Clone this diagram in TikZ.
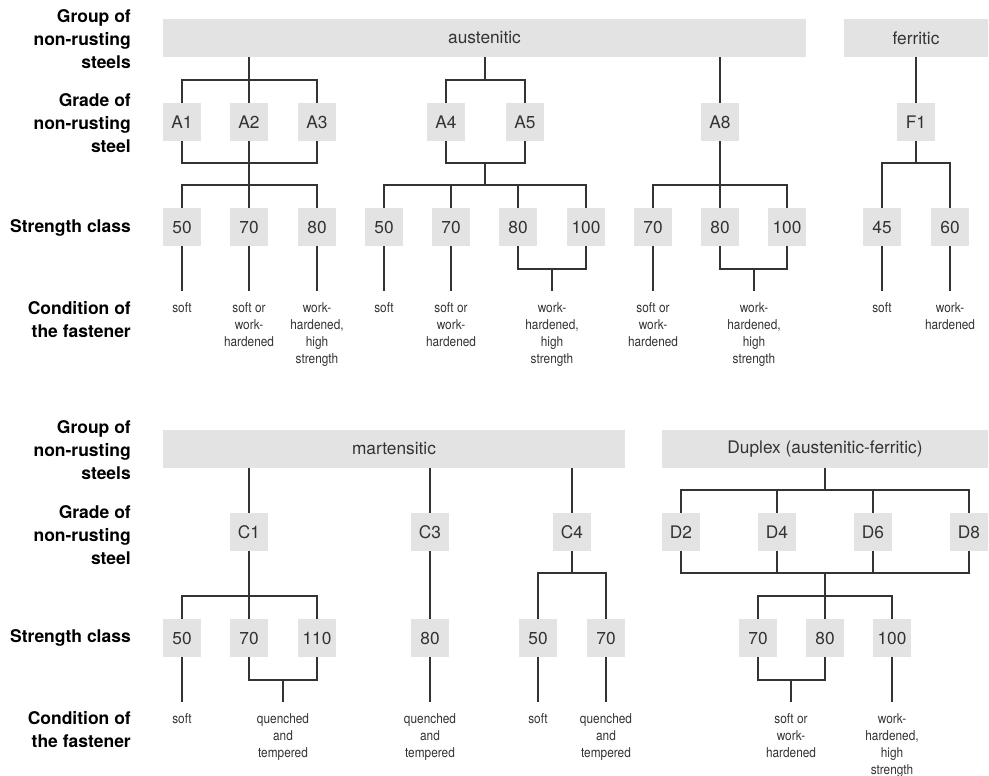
\documentclass[tikz,border=0pt]{standalone}
\usepackage{fontspec}
\setmainfont{TeX Gyre Heros}
\newfontfamily\condfont[FakeStretch=0.87]{TeX Gyre Heros}
\usepackage{xcolor}
\usepackage{tikz}
\usetikzlibrary{positioning}
\definecolor{SteelFill}{HTML}{E3E3E3}
\definecolor{SteelText}{HTML}{333333}
\definecolor{SteelLine}{HTML}{333333}

\begin{document}
\begin{tikzpicture}[
	x=1pt, y=-1pt,
	bar/.style={fill=SteelFill, text=SteelText, minimum height=38pt, inner sep=0pt, font=\fontsize{17.3}{20}\selectfont},
	grade/.style={fill=SteelFill, text=SteelText, minimum width=38pt, minimum height=38pt, inner sep=0pt, font=\fontsize{17.3}{20}\selectfont},
	cond/.style={text=SteelText, align=center, inner xsep=0pt, inner ysep=11pt, font={\condfont\fontsize{13.6}{17.2}\selectfont}},
	rowlabel/.style={anchor=east, align=right, inner sep=0pt, font={\bfseries\fontsize{17.5}{23}\selectfont}},
	link/.style={draw=SteelLine, line width=1.1pt}
]
\useasboundingbox (0,0) rectangle (989,776);

\node[rowlabel] (grp1) at (131,39) {Group of\\non-rusting\\steels};
\node[rowlabel] (grd1) at (131,123) {Grade of\\non-rusting\\steel};
\node[rowlabel] (str1) at (131,228) {Strength class};
\node[rowlabel] (cnd1) at (131,320) {Condition of\\the fastener};

\node[rowlabel] (grp2) at (131,450) {Group of\\non-rusting\\steels};
\node[rowlabel] (grd2) at (131,535) {Grade of\\non-rusting\\steel};
\node[rowlabel] (str2) at (131,638) {Strength class};
\node[rowlabel] (cnd2) at (131,730) {Condition of\\the fastener};

\node[bar, minimum width=643pt] (aust) at (484.5,38) {austenitic};
\node[bar, minimum width=144pt] (ferr) at (916,38) {ferritic};

\node[grade] (A1) at (182,122) {A1};
\node[grade] (A2) at (249,122) {A2};
\node[grade] (A3) at (317,122) {A3};
\node[grade] (A4) at (446,122) {A4};
\node[grade] (A5) at (525,122) {A5};
\node[grade] (A8) at (720,122) {A8};
\node[grade] (F1) at (916,122) {F1};

\node[grade] (s5a) at (182,227) {50};
\node[grade] (s7a) at (249,227) {70};
\node[grade] (s8a) at (317,227) {80};
\node[grade] (s5b) at (384,227) {50};
\node[grade] (s7b) at (451,227) {70};
\node[grade] (s8b) at (518,227) {80};
\node[grade] (s10b) at (586,227) {100};
\node[grade] (s7c) at (653,227) {70};
\node[grade] (s8c) at (720,227) {80};
\node[grade] (s10c) at (787,227) {100};
\node[grade] (s45) at (882,227) {45};
\node[grade] (s60) at (950,227) {60};

\coordinate (jA) at (249,80);
\coordinate (kA) at (249,163);
\coordinate (lA) at (249,185);
\coordinate (jB) at (485,80);
\coordinate (kB) at (485,163);
\coordinate (lB) at (485,185);
\coordinate (lC) at (720,185);
\coordinate (kF) at (916,163);
\coordinate (mB) at (552,269);
\coordinate (mC) at (754,269);

\draw[link] (aust.south -| jA) -- (jA) (A1.north) |- (jA) -| (A3.north) (jA) -- (A2.north);
\draw[link] (aust.south -| jB) -- (jB) (A4.north) |- (jB) -| (A5.north);
\draw[link] (aust.south -| A8) -- (A8.north);
\draw[link] (ferr) -- (F1);

\draw[link] (A1.south) |- (kA) -| (A3.south) (A2.south) -- (lA);
\draw[link] (s5a.north) |- (lA) -| (s8a.north) (lA) -- (s7a.north);
\draw[link] (A4.south) |- (kB) -| (A5.south) (kB) -- (lB);
\draw[link] (s5b.north) |- (lB) -| (s10b.north);
\draw[link] (s7b.north |- lB) -- (s7b.north) (s8b.north |- lB) -- (s8b.north);
\draw[link] (A8.south) -- (lC) (s7c.north) |- (lC) -| (s10c.north) (lC) -- (s8c.north);
\draw[link] (F1.south) -- (kF) (s45.north) |- (kF) -| (s60.north);

\node[cond, below=45pt of s5a] (c5a) {soft};
\node[cond, below=45pt of s7a] (c7a) {soft or\\work-\\hardened};
\node[cond, below=45pt of s8a] (c8a) {work-\\hardened,\\high\\strength};
\node[cond, below=45pt of s5b] (c5b) {soft};
\node[cond, below=45pt of s7b] (c7b) {soft or\\work-\\hardened};
\node[cond, below=22pt of mB] (c8b) {work-\\hardened,\\high\\strength};
\node[cond, below=45pt of s7c] (c7c) {soft or\\work-\\hardened};
\node[cond, below=22pt of mC] (c8c) {work-\\hardened,\\high\\strength};
\node[cond, below=45pt of s45] (c45) {soft};
\node[cond, below=45pt of s60] (c60) {work-\\hardened};

\draw[link] (s5a.south) -- (c5a.north);
\draw[link] (s7a.south) -- (c7a.north);
\draw[link] (s8a.south) -- (c8a.north);
\draw[link] (s5b.south) -- (c5b.north);
\draw[link] (s7b.south) -- (c7b.north);
\draw[link] (s8b.south) |- (mB) -| (s10b.south) (mB) -- (c8b.north);
\draw[link] (s7c.south) -- (c7c.north);
\draw[link] (s8c.south) |- (mC) -| (s10c.south) (mC) -- (c8c.north);
\draw[link] (s45.south) -- (c45.north);
\draw[link] (s60.south) -- (c60.north);

\node[bar, minimum width=462pt] (mart) at (394,449) {martensitic};
\node[bar, minimum width=326pt] (dupl) at (825,449) {Duplex (austenitic-ferritic)};

\node[grade] (C1) at (249,532) {C1};
\node[grade] (C3) at (430,532) {C3};
\node[grade] (C4) at (572,532) {C4};
\node[grade] (D2) at (681,532) {D2};
\node[grade] (D4) at (777,532) {D4};
\node[grade] (D6) at (873,532) {D6};
\node[grade] (D8) at (969,532) {D8};

\node[grade] (s5d) at (182,638) {50};
\node[grade] (s7d) at (249,638) {70};
\node[grade] (s11d) at (317,638) {110};
\node[grade] (s8e) at (430,638) {80};
\node[grade] (s5f) at (538,638) {50};
\node[grade] (s7f) at (606,638) {70};
\node[grade] (s7g) at (758,638) {70};
\node[grade] (s8g) at (825,638) {80};
\node[grade] (s10g) at (892,638) {100};

\coordinate (lD1) at (249,596);
\coordinate (kC4) at (572,573);
\coordinate (jD) at (825,490);
\coordinate (kD) at (825,573);
\coordinate (lD) at (825,596);
\coordinate (mD1) at (283,680);
\coordinate (mG) at (791,680);

\draw[link] (mart.south -| C1) -- (C1.north) (mart.south -| C3) -- (C3.north) (mart.south -| C4) -- (C4.north);
\draw[link] (dupl.south -| jD) -- (jD) (D2.north) |- (jD) -| (D8.north);
\draw[link] (D4.north |- jD) -- (D4.north) (D6.north |- jD) -- (D6.north);
\draw[link] (D2.south) |- (kD) -| (D8.south) (kD) -- (lD);
\draw[link] (D4.south) -- (D4.south |- kD) (D6.south) -- (D6.south |- kD);
\draw[link] (s7g.north) |- (lD) -| (s10g.north) (lD) -- (s8g.north);

\draw[link] (C1.south) -- (lD1) (s5d.north) |- (lD1) -| (s11d.north) (lD1) -- (s7d.north);
\draw[link] (C3.south) -- (s8e.north);
\draw[link] (C4.south) -- (kC4) (s5f.north) |- (kC4) -| (s7f.north);

\node[cond, below=45pt of s5d] (c5d) {soft};
\node[cond, below=22pt of mD1] (c7d) {quenched\\and\\tempered};
\node[cond, below=45pt of s8e] (c8e) {quenched\\and\\tempered};
\node[cond, below=45pt of s5f] (c5f) {soft};
\node[cond, below=45pt of s7f] (c7f) {quenched\\and\\tempered};
\node[cond, below=22pt of mG] (c7g) {soft or\\work-\\hardened};
\node[cond, below=45pt of s10g] (c10g) {work-\\hardened,\\high\\strength};

\draw[link] (s5d.south) -- (c5d.north);
\draw[link] (s7d.south) |- (mD1) -| (s11d.south) (mD1) -- (c7d.north);
\draw[link] (s8e.south) -- (c8e.north);
\draw[link] (s5f.south) -- (c5f.north);
\draw[link] (s7f.south) -- (c7f.north);
\draw[link] (s7g.south) |- (mG) -| (s8g.south) (mG) -- (c7g.north);
\draw[link] (s10g.south) -- (c10g.north);
\end{tikzpicture}
\end{document}
